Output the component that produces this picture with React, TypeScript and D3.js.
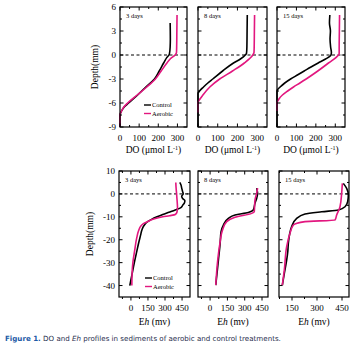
import React from 'react';
import * as d3 from 'd3';

// DO profiles: [depth mm, DO umol/L]
const doControl3 = [[4, 262], [2, 263], [1, 262], [0.1, 258], [-0.3, 245], [-1, 228], [-2, 205], [-3, 180], [-4, 135], [-5, 92], [-6, 45], [-6.5, 22], [-7, 8], [-7.5, 0], [-9, 0]];
const doAerobic3 = [[5, 298], [3, 297], [1, 296], [0.3, 295], [0, 288], [-0.5, 262], [-1, 245], [-2, 215], [-3, 185], [-4, 140], [-5, 90], [-6, 40], [-6.5, 20], [-7, 8], [-7.5, 0], [-9, 0]];
const doControl8 = [[5, 250], [3, 249], [1, 248], [0.2, 246], [0, 240], [-0.5, 215], [-1, 180], [-2, 125], [-3, 75], [-3.5, 50], [-4, 28], [-4.5, 8], [-4.8, 0], [-9, 0]];
const doAerobic8 = [[5, 287], [3, 286], [1, 285], [0.3, 284], [0, 278], [-1, 235], [-2, 175], [-3, 110], [-4, 60], [-5, 25], [-5.5, 10], [-6, 0], [-7.2, 0]];
const doControl15 = [[5, 272], [4, 270], [3, 275], [2, 273], [1, 276], [0.3, 280], [0, 278], [-0.5, 250], [-1, 212], [-1.5, 175], [-2, 140], [-2.5, 105], [-3, 70], [-3.5, 40], [-4, 16], [-4.3, 4], [-4.5, 0], [-9, 0]];
const doAerobic15 = [[5, 322], [3, 321], [1, 320], [0.2, 320], [0, 316], [-1, 265], [-2, 210], [-3, 150], [-3.5, 118], [-4, 85], [-4.5, 55], [-5, 28], [-5.5, 10], [-6, 0], [-7, 0]];

// Eh profiles: [depth mm, Eh mv]
const ehControl3 = [[5, 430], [4, 440], [2.5, 447], [1, 455], [0, 460], [-1, 447], [-2, 455], [-3, 475], [-4, 470], [-5, 455], [-6, 440], [-7, 390], [-8, 335], [-9, 280], [-10, 230], [-11, 185], [-12, 150], [-14, 112], [-16, 95], [-18, 85], [-21, 70], [-25, 52], [-30, 30], [-35, 10], [-40, -10]];
const ehAerobic3 = [[5, 395], [3, 397], [0, 402], [-2, 405], [-4, 408], [-6, 410], [-8, 405], [-9, 390], [-9.5, 340], [-10, 280], [-11, 200], [-12, 150], [-13, 110], [-14, 88], [-16, 68], [-19, 52], [-25, 32], [-30, 17], [-35, 10], [-40, 8]];
const ehControl8 = [[2.5, 404], [1, 410], [0.3, 412], [-1.9, 404], [-4.1, 389], [-7, 375], [-8.1, 331], [-9.2, 216], [-10.7, 158], [-13.6, 115], [-16.5, 95], [-21.6, 87], [-28.9, 72], [-39.8, 49]];
const ehAerobic8 = [[2.5, 412], [0.3, 404], [-2.7, 389], [-7.7, 383], [-8.5, 360], [-10.2, 216], [-12.1, 144], [-15.8, 107], [-21.6, 85], [-28.9, 66], [-39.8, 49]];
const ehControl15 = [[4.6, 458], [2.4, 478], [-0.5, 488], [-3.4, 484], [-5.6, 468], [-7, 428], [-7.8, 328], [-8.8, 228], [-10.7, 178], [-14.3, 148], [-21.6, 128], [-25, 125], [-28.9, 118], [-34.7, 104], [-39.8, 92]];
const ehAerobic15 = [[4.6, 452], [0.3, 448], [-5.6, 438], [-9.2, 418], [-11.4, 408], [-12.1, 228], [-13.6, 158], [-17.2, 138], [-23, 118], [-33.2, 104], [-39.8, 92]];

const dayLabels = ['3 days', '8 days', '15 days'];
const doTicks = [0, 100, 200, 300];
const doDepthTicks = [6, 3, 0, -3, -6, -9];
const ehTicks = [0, 150, 300, 450];
const ehDepthTicks = [10, 0, -10, -20, -30, -40];

const BLACK = '#000';
const PINK = '#e2177f';
const SERIF = '"Liberation Serif", "Times New Roman", serif';

type Pt = number[];

function Panel({ x0, x1, y0, y1, xDom, yDom, xTicks, xMinor, yTicks, yMinor, control, aerobic, label, showY, legend, xTitle, tickOut }: any) {
  const x = d3.scaleLinear().domain(xDom).range([x0, x1]);
  const y = d3.scaleLinear().domain(yDom).range([y1, y0]);
  const line = d3.line<Pt>().x(d => x(d[1])).y(d => y(d[0])).curve(d3.curveMonotoneY);
  const xt = xTicks.filter((t: number) => t >= xDom[0] && t <= xDom[1]);
  const xm = xMinor.filter((t: number) => t >= xDom[0] && t <= xDom[1]);
  return (
    <g>
      <line x1={x0} x2={x1} y1={y(0)} y2={y(0)} stroke="#000" strokeWidth={1} strokeDasharray="3,2.5" />
      <path d={line(control) || ''} fill="none" stroke={BLACK} strokeWidth={1.6} />
      <path d={line(aerobic) || ''} fill="none" stroke={PINK} strokeWidth={1.6} />
      <rect x={x0} y={y0} width={x1 - x0} height={y1 - y0} fill="none" stroke="#000" strokeWidth={1.2} />
      {yMinor.map((t: number, i: number) => (
        <g key={'ym' + i}>
          <line x1={x0} x2={x0 + 2} y1={y(t)} y2={y(t)} stroke="#000" />
          <line x1={x1} x2={x1 - 2} y1={y(t)} y2={y(t)} stroke="#000" />
        </g>
      ))}
      {yTicks.map((t: number, i: number) => (
        <g key={'y' + i}>
          <line x1={x0} x2={x0 + 3.5} y1={y(t)} y2={y(t)} stroke="#000" />
          <line x1={x1} x2={x1 - 3.5} y1={y(t)} y2={y(t)} stroke="#000" />
          {showY && <text x={x0 - 4} y={y(t) + 3} fontSize={9} fontFamily={SERIF} textAnchor="end">{t < 0 ? '-' + Math.abs(t) : t}</text>}
        </g>
      ))}
      {xm.map((t: number, i: number) => (
        <g key={'xm' + i}>
          <line x1={x(t)} x2={x(t)} y1={y1} y2={tickOut ? y1 + 2 : y1 - 2} stroke="#000" />
          <line x1={x(t)} x2={x(t)} y1={y0} y2={y0 + 2} stroke="#000" />
        </g>
      ))}
      {xt.map((t: number, i: number) => (
        <g key={'x' + i}>
          <line x1={x(t)} x2={x(t)} y1={y1} y2={tickOut ? y1 + 3.5 : y1 - 3.5} stroke="#000" />
          <line x1={x(t)} x2={x(t)} y1={y0} y2={y0 + 3.5} stroke="#000" />
          <text x={x(t)} y={y1 + 14} fontSize={9} fontFamily={SERIF} textAnchor="middle">{t}</text>
        </g>
      ))}
      <text x={x0 + 6} y={y0 + 11} fontSize={6.5} fontFamily={SERIF}>{label}</text>
      {xTitle}
      {legend && (
        <g>
          <line x1={legend.x} x2={legend.x + 7} y1={legend.y} y2={legend.y} stroke={BLACK} strokeWidth={1.4} />
          <text x={legend.x + 8} y={legend.y + 2.2} fontSize={6.5} fontFamily={SERIF}>Control</text>
          <line x1={legend.x} x2={legend.x + 7} y1={legend.y + 8.5} y2={legend.y + 8.5} stroke={PINK} strokeWidth={1.4} />
          <text x={legend.x + 8} y={legend.y + 10.7} fontSize={6.5} fontFamily={SERIF}>Aerobic</text>
        </g>
      )}
    </g>
  );
}

export default function App() {
  const doTitle = (cx: number) => (
    <text x={cx} y={153} fontSize={9.5} fontFamily={SERIF} textAnchor="middle">
      DO (μmol L<tspan dy={-3.5} fontSize={6}>-1</tspan><tspan dy={3.5}>)</tspan>
    </text>
  );
  const ehTitle = (cx: number) => (
    <text x={cx} y={325} fontSize={9.5} fontFamily={SERIF} textAnchor="middle">
      E<tspan fontStyle="italic">h</tspan> (mv)
    </text>
  );
  const topCols = [[120, 187], [198, 267], [277, 345]];
  const botCols = [[119, 190], [198, 268], [279, 349]];
  const doData = [[doControl3, doAerobic3], [doControl8, doAerobic8], [doControl15, doAerobic15]];
  const ehData = [[ehControl3, ehAerobic3], [ehControl8, ehAerobic8], [ehControl15, ehAerobic15]];
  const ehDomains = [[-105, 520], [-105, 502], [72, 492]];
  return (
    <svg width={357} height={350} style={{ position: 'absolute', left: 0, top: 0, background: '#fff' }}>
      {topCols.map((c, i) => (
        <Panel key={'t' + i} x0={c[0]} x1={c[1]} y0={7} y1={127} xDom={[0, 350]} yDom={[-9, 6]}
          xTicks={doTicks} xMinor={[50, 150, 250]} yTicks={doDepthTicks} yMinor={[4.5, 1.5, -1.5, -4.5, -7.5]}
          control={doData[i][0]} aerobic={doData[i][1]} label={dayLabels[i]} showY={i === 0}
          legend={i === 0 ? { x: 144, y: 105 } : null} xTitle={doTitle((c[0] + c[1]) / 2)} tickOut={false} />
      ))}
      {botCols.map((c, i) => (
        <Panel key={'b' + i} x0={c[0]} x1={c[1]} y0={171} y1={297} xDom={ehDomains[i]} yDom={[-45, 10]}
          xTicks={ehTicks} xMinor={[-75, 75, 225, 375]} yTicks={ehDepthTicks} yMinor={[5, -5, -15, -25, -35]}
          control={ehData[i][0]} aerobic={ehData[i][1]} label={dayLabels[i]} showY={i === 0}
          legend={i === 0 ? { x: 145, y: 278 } : null} xTitle={ehTitle((c[0] + c[1]) / 2)} tickOut={true} />
      ))}
      <text transform="translate(98,67) rotate(-90)" fontSize={9.5} fontFamily={SERIF} textAnchor="middle">Depth(mm)</text>
      <text transform="translate(93,234) rotate(-90)" fontSize={9.5} fontFamily={SERIF} textAnchor="middle">Depth(mm)</text>
      <text x={5} y={340.5} fontSize={7.1} fontFamily='"DejaVu Sans", Verdana, sans-serif' fill="#1f2d4d">
        <tspan fill="#1c5aa6" fontWeight="bold">Figure 1.</tspan>  DO and <tspan fontStyle="italic">Eh</tspan> profiles in sediments of aerobic and control treatments.
      </text>
    </svg>
  );
}
